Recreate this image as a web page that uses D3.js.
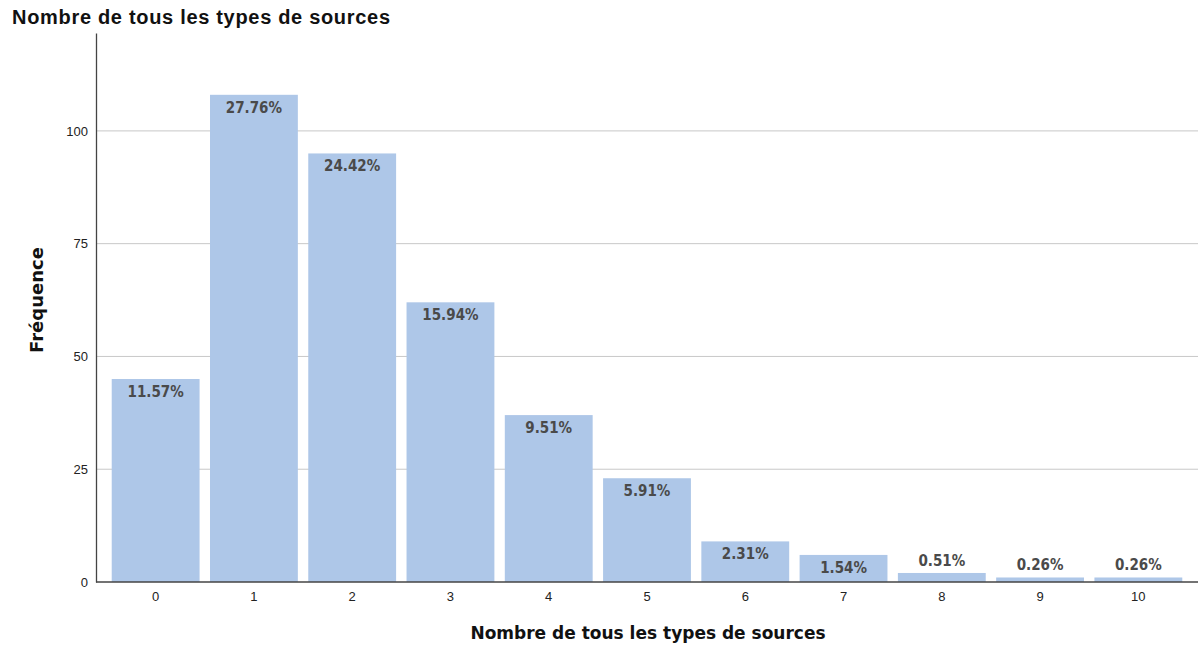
<!DOCTYPE html>
<html><head><meta charset="utf-8">
<script src="https://cdn.jsdelivr.net/npm/d3@7"></script>
<style>body{margin:0;background:#fff}</style>
</head><body>
<svg id="c" width="1199" height="648"></svg>
<script>
const categories = ["0","1","2","3","4","5","6","7","8","9","10"];
const counts = [45,108,95,62,37,23,9,6,2,1,1];
const percentLabels = ["11.57%","27.76%","24.42%","15.94%","9.51%","5.91%","2.31%","1.54%","0.51%","0.26%","0.26%"];
const yTicks = [0,25,50,75,100];

const svg = d3.select("#c");
const x0 = 96, x1 = 1198, yTop = 33, yBase = 582;
const x = d3.scaleBand().domain(categories).range([x0, x1]).paddingInner(0.106).paddingOuter(0.16);
const y = d3.scaleLinear().domain([0, 121.7]).range([yBase, yTop]);

// gridlines
svg.append("g").selectAll("line").data(yTicks.filter(d=>d>0)).join("line")
  .attr("x1", x0).attr("x2", x1).attr("y1", d=>y(d)).attr("y2", d=>y(d))
  .attr("stroke", "#c8c8c8").attr("stroke-width", 1);

// bars
svg.append("g").selectAll("rect").data(counts).join("rect")
  .attr("x", (d,i)=>x(categories[i])).attr("width", x.bandwidth())
  .attr("y", d=>y(d)).attr("height", d=>yBase - y(d))
  .attr("fill", "#aec7e8");

// axes
const yAxis = d3.axisLeft(y).tickValues(yTicks).tickSize(0).tickPadding(8);
const gy = svg.append("g").attr("transform", `translate(${x0},0)`).call(yAxis);
gy.select(".domain").attr("stroke", "#444").attr("stroke-width", 1.3);
gy.selectAll("text").attr("font-family", "Liberation Sans, Arial, sans-serif").attr("font-size", 13).attr("fill", "#222");

const xAxis = d3.axisBottom(x).tickSize(0).tickPadding(10);
const gx = svg.append("g").attr("transform", `translate(0,${yBase})`).call(xAxis);
gx.select(".domain").attr("stroke", "#444").attr("stroke-width", 1.3).attr("d", `M${x0},0H${x1}`);
gx.selectAll("text").attr("font-family", "Liberation Sans, Arial, sans-serif").attr("font-size", 13).attr("fill", "#222");

// value labels
svg.append("g").selectAll("text").data(counts).join("text")
  .attr("x", (d,i)=>x(categories[i]) + x.bandwidth()/2)
  .attr("y", d => (yBase - y(d) > 22) ? y(d) + 18 : y(d) - 7)
  .attr("text-anchor", "middle")
  .attr("font-family", "DejaVu Sans Condensed, DejaVu Sans, sans-serif")
  .attr("font-stretch", "condensed")
  .attr("font-weight", "bold").attr("font-size", 15).attr("fill", "#4a4a4a")
  .text((d,i)=>percentLabels[i]);

// titles
svg.append("text").attr("x", 12).attr("y", 24)
  .attr("font-family", "Liberation Sans, Arial, sans-serif").attr("font-weight", "bold")
  .attr("font-size", 20).attr("fill", "#111")
  .attr("textLength", 378).attr("lengthAdjust", "spacing")
  .text("Nombre de tous les types de sources");

svg.append("text").attr("x", 648).attr("y", 639).attr("text-anchor", "middle")
  .attr("font-family", "DejaVu Sans, Verdana, sans-serif").attr("font-weight", "bold")
  .attr("font-size", 17).attr("fill", "#111").text("Nombre de tous les types de sources");

svg.append("text").attr("transform", "translate(43,300) rotate(-90)").attr("text-anchor", "middle")
  .attr("font-family", "DejaVu Sans, Verdana, sans-serif").attr("font-weight", "bold")
  .attr("font-size", 18).attr("fill", "#111").text("Fréquence");
</script>
</body></html>
